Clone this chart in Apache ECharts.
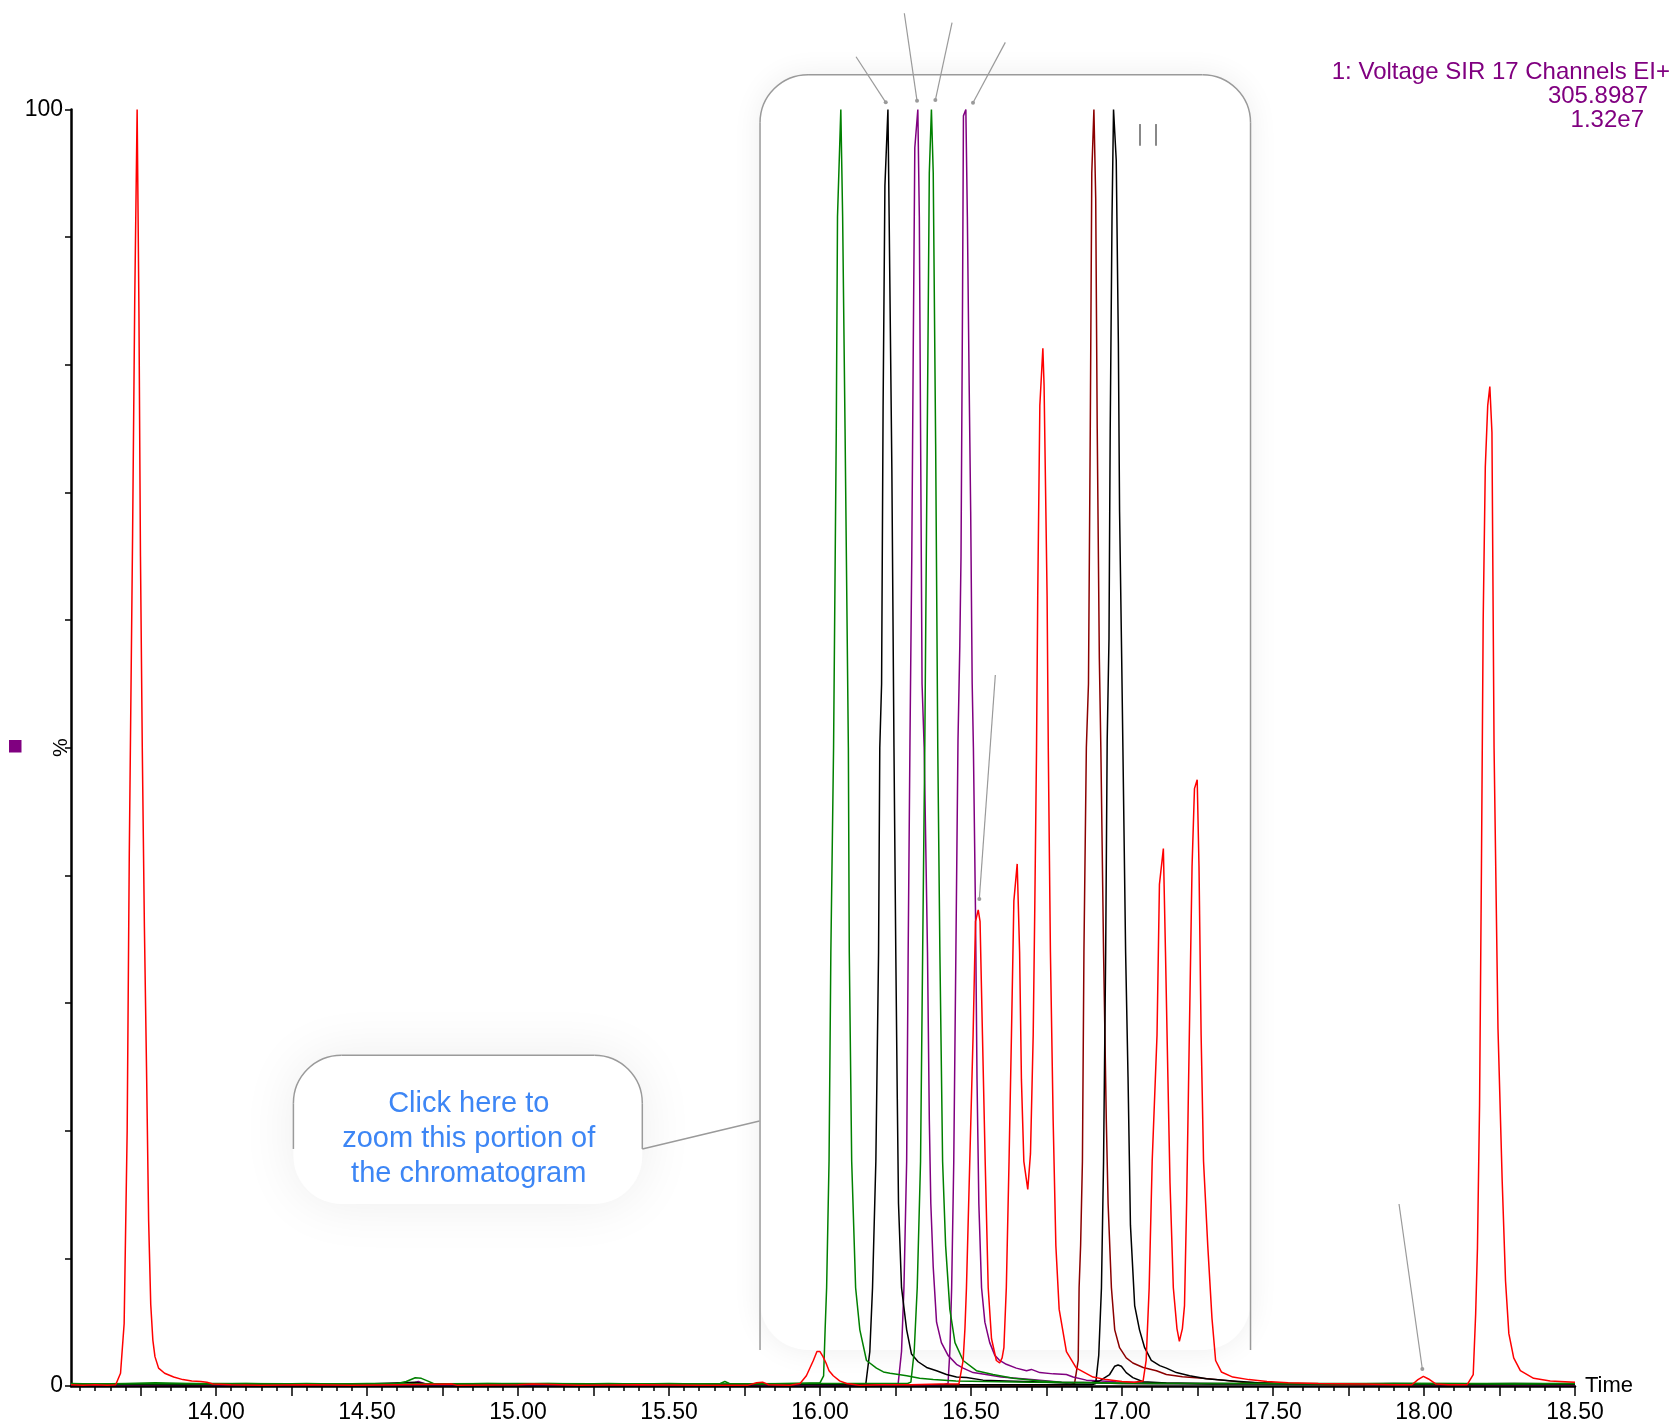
<!DOCTYPE html>
<html>
<head>
<meta charset="utf-8">
<script src="https://cdn.jsdelivr.net/npm/echarts@6.0.0/dist/echarts.min.js"></script>
<style>
  html, body { margin: 0; padding: 0; background: #ffffff; }
  #chart { width: 1673px; height: 1420px; }
</style>
</head>
<body>
<div id="chart"></div>
<script>
// SIR chromatogram, 17 channels, EI+ — relative intensity (%) against retention time (min)

const FONT = '"Liberation Sans", Arial, Helvetica, sans-serif';

const timeLabels = [14.0, 14.5, 15.0, 15.5, 16.0, 16.5, 17.0, 17.5, 18.0, 18.5];
const timeQuarterTicks = [13.75, 14.0, 14.25, 14.5, 14.75, 15.0, 15.25, 15.5, 15.75, 16.0, 16.25, 16.5, 16.75, 17.0, 17.25, 17.5, 17.75, 18.0, 18.25, 18.5];
const percentLabels = [0, 100];

const headerLines = ['1: Voltage SIR 17 Channels EI+', '305.8987', '1.32e7'];
const calloutText = ['Click here to', 'zoom this portion of', 'the chromatogram'];

// [time (min), intensity (%)]
const redTrace = [
  [13.52,0.1],[13.56,0.05],[13.60,0.1],[13.64,0.05],[13.668,0.1],[13.684,1.0],[13.696,4.9],[13.706,20],[13.713,41.7],
  [13.724,66.8],[13.731,85],[13.739,100],[13.745,84],[13.750,65],[13.756,50],[13.763,36],[13.770,25],[13.777,13],
  [13.784,6.4],[13.791,3.6],[13.798,2.3],[13.81,1.4],[13.83,1.0],[13.86,0.7],[13.89,0.5],[13.92,0.4],[13.95,0.35],
  [13.97,0.3],[13.99,0.15],[14.05,0.1],[14.15,0.05],[14.3,0.1],[14.45,0.05],[14.6,0.1],[14.78,0.15],[14.8,0.05],
  [15.0,0.1],[15.05,0.15],[15.2,0.05],[15.4,0.1],[15.6,0.05],[15.76,0.05],[15.79,0.25],[15.81,0.3],[15.83,0.1],
  [15.9,0.05],[15.934,0.2],[15.955,0.8],[15.978,2.0],[15.99,2.7],[16.0,2.7],[16.01,2.3],[16.02,1.8],[16.03,1.2],
  [16.044,0.8],[16.065,0.4],[16.088,0.2],[16.13,0.05],[16.2,0.1],[16.3,0.1],[16.4,0.15],[16.46,0.15],[16.474,2.0],
  [16.48,4.5],[16.485,7.7],[16.496,17.6],[16.507,27.5],[16.515,36.4],[16.524,37.3],[16.53,36.4],[16.538,27.5],
  [16.547,17.6],[16.557,7.7],[16.568,3.7],[16.584,2.0],[16.595,1.8],[16.603,2.2],[16.609,3.0],[16.617,7.7],
  [16.626,17.6],[16.634,27.5],[16.642,38],[16.653,40.9],[16.661,34],[16.667,24],[16.675,17.6],[16.688,15.4],
  [16.697,18.2],[16.706,27.5],[16.711,37],[16.717,49.8],[16.721,61.9],[16.728,76.8],[16.738,81.3],[16.742,78.4],
  [16.748,68.5],[16.752,61.9],[16.756,49.8],[16.763,34],[16.772,20.9],[16.781,11],[16.792,6],[16.816,2.7],
  [16.849,1.4],[16.904,0.7],[16.948,0.5],[17.0,0.35],[17.04,0.3],[17.07,0.4],[17.08,2.0],[17.09,7.7],[17.10,17.6],
  [17.116,27.5],[17.124,39.3],[17.137,42.1],[17.144,34],[17.152,24.2],[17.159,15.9],[17.17,7.7],[17.182,4.5],
  [17.19,3.5],[17.2,4.5],[17.207,6.3],[17.214,14.3],[17.223,27.5],[17.232,40.7],[17.24,46.8],[17.249,47.5],
  [17.255,40.7],[17.262,27.5],[17.27,17.6],[17.284,11],[17.298,5.3],[17.31,2.0],[17.329,1.1],[17.367,0.7],
  [17.42,0.5],[17.48,0.35],[17.55,0.25],[17.65,0.2],[17.8,0.15],[17.9,0.1],[17.96,0.1],[17.98,0.5],[17.998,0.75],
  [18.015,0.55],[18.04,0.15],[18.08,0.1],[18.143,0.1],[18.163,0.9],[18.171,5.6],[18.177,10.8],[18.184,22],
  [18.19,40],[18.196,60],[18.203,72],[18.211,76.8],[18.218,78.3],[18.225,74.7],[18.232,50],[18.245,28],
  [18.259,16],[18.27,8.2],[18.281,4.1],[18.297,2.2],[18.319,1.2],[18.363,0.6],[18.418,0.4],[18.5,0.3]
];

const greenTraceA = [
  [13.52,0.2],[13.6,0.15],[13.7,0.2],[13.8,0.25],[13.9,0.2],[14.0,0.15],[14.1,0.2],[14.2,0.15],[14.3,0.2],
  [14.4,0.15],[14.5,0.2],[14.6,0.2],[14.63,0.35],[14.66,0.65],[14.68,0.6],[14.70,0.4],[14.72,0.2],[14.8,0.15],
  [14.9,0.2],[15.0,0.15],[15.1,0.2],[15.2,0.15],[15.3,0.2],[15.4,0.15],[15.5,0.2],[15.6,0.15],[15.67,0.2],
  [15.685,0.35],[15.70,0.2],[15.8,0.15],[15.9,0.2],[16.0,0.25],[16.012,0.8],[16.017,4.4],[16.022,7.7],
  [16.030,17.6],[16.036,34],[16.045,50],[16.054,75],[16.058,91.6],[16.069,100],[16.075,91.6],[16.083,75],
  [16.094,50],[16.097,34],[16.105,17.6],[16.118,7.7],[16.132,4.4],[16.154,2.0],[16.187,1.4],[16.21,1.1],
  [16.232,1.0],[16.26,0.9],[16.287,0.8],[16.33,0.6],[16.375,0.5],[16.45,0.4],[16.55,0.35],[16.7,0.3],
  [16.9,0.25],[17.1,0.2],[17.4,0.2],[17.7,0.15],[18.0,0.2],[18.3,0.15],[18.5,0.2]
];

const greenTraceB = [
  [13.52,0.15],[14.0,0.2],[14.5,0.15],[15.0,0.2],[15.5,0.15],[16.0,0.2],[16.29,0.2],[16.301,0.3],[16.312,2.7],
  [16.322,7.7],[16.333,17.6],[16.34,34],[16.347,50],[16.355,73.8],[16.362,95],[16.369,100],[16.375,95],
  [16.383,73.8],[16.39,50],[16.397,34],[16.406,17.6],[16.416,11],[16.43,6],[16.447,3.4],[16.474,2.0],
  [16.518,1.2],[16.573,0.9],[16.64,0.6],[16.73,0.4],[16.8,0.3],[16.9,0.25],[17.0,0.2],[17.5,0.2],[18.0,0.2],[18.5,0.2]
];

const blackTraceA = [
  [13.52,0.1],[13.7,0.15],[13.9,0.1],[14.1,0.15],[14.3,0.1],[14.5,0.15],[14.66,0.3],[14.7,0.15],[14.9,0.1],
  [15.1,0.15],[15.3,0.1],[15.5,0.15],[15.7,0.1],[15.9,0.15],[16.1,0.1],[16.14,0.15],[16.152,0.2],[16.165,2.7],
  [16.174,7.7],[16.185,17.6],[16.194,34],[16.198,50],[16.204,55],[16.209,76.8],[16.215,94],[16.225,100],
  [16.229,91.6],[16.238,71.8],[16.245,50],[16.251,34],[16.256,22.5],[16.26,14.3],[16.27,7.7],[16.287,4.4],
  [16.303,2.5],[16.325,1.9],[16.353,1.45],[16.386,1.2],[16.419,0.9],[16.452,0.7],[16.485,0.66],[16.54,0.46],
  [16.617,0.4],[16.706,0.33],[16.816,0.23],[16.9,0.3],[16.926,0.4],[16.959,0.9],[16.976,1.55],[16.987,1.65],
  [16.998,1.55],[17.014,1.05],[17.036,0.66],[17.07,0.33],[17.147,0.23],[17.3,0.15],[17.5,0.2],[17.7,0.15],
  [17.9,0.2],[18.1,0.15],[18.3,0.2],[18.5,0.15]
];

const blackTraceB = [
  [13.52,0.1],[14.2,0.1],[14.8,0.1],[15.4,0.1],[16.0,0.1],[16.5,0.1],[16.9,0.1],[16.913,0.2],[16.923,2.4],
  [16.932,7.7],[16.939,17.6],[16.946,34],[16.951,50.6],[16.957,58.6],[16.961,75],[16.967,91.6],[16.972,100],
  [16.981,96],[16.988,81.7],[16.992,68.5],[16.999,57],[17.003,50],[17.012,34],[17.02,24.2],[17.028,12.6],
  [17.042,6.3],[17.058,4.4],[17.075,3.0],[17.097,2.0],[17.125,1.6],[17.147,1.4],[17.18,1.05],[17.224,0.8],
  [17.279,0.56],[17.367,0.4],[17.45,0.25],[17.6,0.15],[18.0,0.1],[18.5,0.1]
];

const maroonTrace = [
  [13.52,0.1],[14.5,0.1],[15.5,0.1],[16.5,0.1],[16.83,0.1],[16.843,0.2],[16.855,2.0],[16.858,7.7],[16.863,11],
  [16.869,17.6],[16.874,34],[16.882,50],[16.889,55],[16.895,75],[16.9,95],[16.907,100],[16.913,93],[16.918,75],
  [16.925,57],[16.93,50],[16.939,34],[16.948,20.9],[16.954,14.3],[16.965,7.7],[16.976,4.4],[16.992,3.0],
  [17.014,2.2],[17.036,1.8],[17.07,1.45],[17.114,1.2],[17.147,0.9],[17.2,0.73],[17.257,0.63],[17.334,0.46],
  [17.4,0.3],[17.5,0.2],[17.7,0.1],[18.5,0.1]
];

const purpleTraceA = [
  [13.52,0.1],[14.0,0.1],[14.64,0.1],[14.67,0.35],[14.7,0.1],[15.2,0.1],[15.8,0.1],[16.25,0.1],[16.259,0.2],
  [16.27,2.7],[16.278,7.7],[16.287,17.6],[16.292,34],[16.298,50.6],[16.304,65],[16.309,81.7],[16.314,97],
  [16.324,100],[16.329,91.6],[16.333,75],[16.338,55],[16.345,50],[16.356,34],[16.362,20.9],[16.367,14.3],
  [16.375,9.3],[16.386,5],[16.402,3.4],[16.424,2.4],[16.452,1.7],[16.474,1.4],[16.507,1.05],[16.55,0.9],
  [16.6,0.7],[16.7,0.5],[16.8,0.3],[17.0,0.2],[17.3,0.15],[18.5,0.1]
];

const purpleTraceB = [
  [13.52,0.1],[14.5,0.1],[15.5,0.1],[16.41,0.1],[16.424,0.2],[16.43,2.7],[16.436,7.7],[16.443,17.6],[16.45,34],
  [16.457,50.6],[16.463,58],[16.467,65],[16.472,85],[16.475,99.5],[16.483,100],[16.488,91.6],[16.494,78.4],
  [16.499,68.5],[16.504,55],[16.508,50],[16.515,37],[16.52,24],[16.526,14.3],[16.535,7.7],[16.546,5],
  [16.562,3.4],[16.579,2.4],[16.595,2.0],[16.617,1.7],[16.65,1.4],[16.684,1.2],[16.70,1.3],[16.728,1.05],
  [16.772,0.95],[16.816,0.9],[16.838,0.7],[16.882,0.46],[16.98,0.33],[17.1,0.23],[17.3,0.2],[17.5,0.15],[18.5,0.1]
];

// annotation geometry, in axis units (time, %)
const zoomBracket = { left: 15.8015, right: 17.4256, top: 102.73, bottom: 2.82 };
const calloutBox = { left: 14.2564, right: 15.4117, top: 25.91, sideBottom: 18.57, linkTo: [15.7998, 20.76], textAt: [14.837, 19.35] };
const pointers = [
  // [tipTime, tipPct, tailTime, tailPct]
  [16.2177, 100.56, 16.1194, 104.13],
  [16.3213, 100.69, 16.2793, 107.54],
  [16.3820, 100.74, 16.4373, 106.80],
  [16.5067, 100.53, 16.6137, 105.26],
  [16.5276, 38.15, 16.5806, 55.70],
  [17.9945, 1.33, 17.9173, 14.26]
];
const integrationMarks = [[17.0597, 98.86, 97.16], [17.1127, 98.86, 97.16]];

const X_MIN = 13.52, X_MAX = 18.5;
const minorTicks = [];
for (let k = Math.ceil(X_MIN / 0.05); k * 0.05 <= X_MAX + 1e-9; k++) minorTicks.push(+(k * 0.05).toFixed(2));

const chart = echarts.init(document.getElementById('chart'), null, { renderer: 'canvas' });

function trace(name, data, color, z) {
  return {
    name, type: 'line', data, z,
    xAxisIndex: 0, yAxisIndex: 0,
    symbol: 'none', showSymbol: false, clip: false, silent: true,
    lineStyle: { color, width: 1.5 }
  };
}

chart.setOption({
  animation: false,
  backgroundColor: '#ffffff',
  grid: { left: 71, right: 98, top: 109.5, bottom: 34, containLabel: false, outerBoundsMode: 'none' },
  xAxis: [
    {
      type: 'value', min: X_MIN, max: X_MAX, position: 'bottom',
      name: 'Time', nameLocation: 'end', nameGap: 10, nameMoveOverlap: false,
      nameTextStyle: { color: '#000', fontFamily: FONT, fontSize: 22, verticalAlign: 'middle', padding: [16, 0, 0, 0] },
      axisLine: { show: true, onZero: false, lineStyle: { color: '#000', width: 2.5 } },
      axisTick: { show: true, customValues: timeQuarterTicks, length: 10, lineStyle: { color: '#000', width: 1.5 } },
      axisLabel: {
        show: true, customValues: timeLabels, margin: 15, hideOverlap: false,
        formatter: v => Number(v).toFixed(2),
        color: '#000', fontFamily: FONT, fontSize: 23
      },
      splitLine: { show: false }
    },
    {
      type: 'value', min: X_MIN, max: X_MAX, position: 'bottom', offset: 0,
      axisLine: { show: false },
      axisTick: { show: true, customValues: minorTicks, length: 5, lineStyle: { color: '#000', width: 1.5 } },
      axisLabel: { show: false },
      splitLine: { show: false }
    }
  ],
  yAxis: {
    type: 'value', min: 0, max: 100, interval: 10,
    name: '%', nameLocation: 'middle', nameRotate: 90, nameGap: -1, nameMoveOverlap: false,
    nameTextStyle: { color: '#000', fontFamily: FONT, fontSize: 21 },
    axisLine: { show: true, lineStyle: { color: '#000', width: 2.5 } },
    axisTick: { show: true, length: 6, lineStyle: { color: '#000', width: 1.5 } },
    axisLabel: {
      margin: 8, color: '#000', fontFamily: FONT, fontSize: 23,
      formatter: v => (percentLabels.indexOf(v) >= 0 ? String(v) : '')
    },
    splitLine: { show: false }
  },
  series: [
    trace('maroon', maroonTrace, '#8b0000', 2),
    trace('purpleA', purpleTraceA, '#800080', 3),
    trace('purpleB', purpleTraceB, '#800080', 3),
    trace('blackA', blackTraceA, '#000000', 4),
    trace('blackB', blackTraceB, '#000000', 4),
    trace('greenA', greenTraceA, '#008000', 5),
    trace('greenB', greenTraceB, '#008000', 5),
    trace('red', redTrace, '#ff0000', 6)
  ]
});

// annotations are placed through the axis scales
function px(t, p) { return chart.convertToPixel({ xAxisIndex: 0, yAxisIndex: 0 }, [t, p]); }

const R = 48;
const GRAY = '#9a9a9a';
const elements = [];

// open-bottomed rounded outline: two sides, two corner arcs, one top edge
function roundedOpenOutline(x0, y0, x1, yBottom, z) {
  const stroke = { stroke: GRAY, lineWidth: 1.5, fill: null };
  return [
    { type: 'line', z, silent: true, shape: { x1: x0, y1: yBottom, x2: x0, y2: y0 + R }, style: stroke },
    { type: 'arc', z, silent: true, shape: { cx: x0 + R, cy: y0 + R, r: R, startAngle: Math.PI, endAngle: Math.PI * 1.5, clockwise: true }, style: stroke },
    { type: 'line', z, silent: true, shape: { x1: x0 + R, y1: y0, x2: x1 - R, y2: y0 }, style: stroke },
    { type: 'arc', z, silent: true, shape: { cx: x1 - R, cy: y0 + R, r: R, startAngle: Math.PI * 1.5, endAngle: Math.PI * 2, clockwise: true }, style: stroke },
    { type: 'line', z, silent: true, shape: { x1: x1, y1: y0 + R, x2: x1, y2: yBottom }, style: stroke }
  ];
}

// zoom bracket
{
  const [x0, y0] = px(zoomBracket.left, zoomBracket.top);
  const [x1, y1] = px(zoomBracket.right, zoomBracket.bottom);
  elements.push({
    type: 'rect', z: 0, silent: true,
    shape: { x: x0, y: y0, width: x1 - x0, height: y1 - y0, r: R },
    style: { fill: '#ffffff', shadowBlur: 30, shadowColor: 'rgba(0,0,0,0.07)' }
  });
  elements.push(...roundedOpenOutline(x0, y0, x1, y1, 50));
}

// callout box
{
  const [x0, y0] = px(calloutBox.left, calloutBox.top);
  const [x1, yb] = px(calloutBox.right, calloutBox.sideBottom);
  const [lx, ly] = px(calloutBox.linkTo[0], calloutBox.linkTo[1]);
  const [tx, ty] = px(calloutBox.textAt[0], calloutBox.textAt[1]);
  elements.push({
    type: 'rect', z: 1, silent: true,
    shape: { x: x0, y: y0, width: x1 - x0, height: (yb - y0) + 55, r: R },
    style: { fill: '#ffffff', shadowBlur: 55, shadowColor: 'rgba(0,0,0,0.075)' }
  });
  elements.push(...roundedOpenOutline(x0, y0, x1, yb, 50));
  elements.push({ type: 'line', z: 50, silent: true, shape: { x1: x1, y1: yb, x2: lx, y2: ly }, style: { stroke: GRAY, lineWidth: 1.5 } });
  elements.push({
    type: 'text', z: 51, silent: true, x: tx, y: ty,
    style: {
      text: calloutText.join('\n'), fill: '#3d86f5', font: `29px ${FONT}`,
      align: 'center', verticalAlign: 'middle', lineHeight: 35
    }
  });
}

// pointers to labelled peaks
pointers.forEach(([tt, tp, st, sp]) => {
  const [ax, ay] = px(tt, tp);
  const [bx, by] = px(st, sp);
  elements.push({ type: 'line', z: 50, silent: true, shape: { x1: bx, y1: by, x2: ax, y2: ay }, style: { stroke: GRAY, lineWidth: 1.2 } });
  elements.push({ type: 'circle', z: 50, silent: true, shape: { cx: ax, cy: ay, r: 2 }, style: { fill: GRAY } });
});

// integration marks
integrationMarks.forEach(([t, p0, p1]) => {
  const [x, ya] = px(t, p0);
  const [, yb] = px(t, p1);
  elements.push({ type: 'line', z: 50, silent: true, shape: { x1: x, y1: ya, x2: x, y2: yb }, style: { stroke: '#888', lineWidth: 2 } });
});

// channel header, top right
const headerRight = [1670, 1648, 1644];
const headerY = [72, 96, 120];
headerLines.forEach((s, i) => {
  elements.push({
    type: 'text', z: 60, silent: true, x: headerRight[i], y: headerY[i],
    style: { text: s, fill: '#800080', font: `24px ${FONT}`, align: 'right', verticalAlign: 'middle' }
  });
});

// channel colour swatch beside the intensity axis
elements.push({
  type: 'rect', z: 60, silent: true,
  shape: { x: 9, y: 740, width: 12.5, height: 12.5 },
  style: { fill: '#800080' }
});

chart.setOption({ graphic: { elements } });
</script>
</body>
</html>
